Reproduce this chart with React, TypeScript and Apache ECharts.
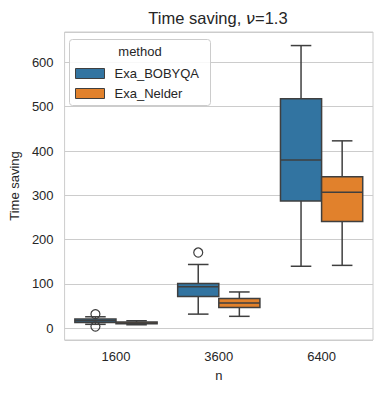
import React, { useEffect, useRef } from 'react';
import * as echarts from 'echarts';

const categories = ['1600', '3600', '6400'];
const methods = ['Exa_BOBYQA', 'Exa_Nelder'];
const colors = ['#3274a1', '#e1812c'];
// [lower whisker, Q1, median, Q3, upper whisker]
const bobyqaStats = [
  [9, 13, 17, 21, 26],
  [32, 72, 94, 101, 144],
  [140, 287, 380, 518, 638],
];
const nelderStats = [
  [8, 10, 12, 14, 17],
  [27, 47, 57, 67, 82],
  [142, 241, 307, 342, 423],
];
// [category index, value]
const bobyqaOutliers = [
  [0, 32],
  [0, 4],
  [1, 171],
];
const nelderOutliers: number[][] = [];

const FONT = 'Liberation Sans, Arial, sans-serif';
const TEXT = '#262626';
const EDGE = '#3f3f3f';

function makeRender(sIdx: number, outliers: number[][], color: string) {
  return (params: any, api: any) => {
    const cat = api.value(0);
    const low = api.value(1);
    const q1 = api.value(2);
    const med = api.value(3);
    const q3 = api.value(4);
    const high = api.value(5);
    const band = api.size([1, 0])[0];
    const bw = band * 0.4;
    const cx = api.coord([cat, 0])[0] + (sIdx === 0 ? -1 : 1) * (bw / 2);
    const y = (v: number) => api.coord([cat, v])[1];
    const ls = { stroke: EDGE, lineWidth: 1.5 };
    const children: any[] = [
      { type: 'line', shape: { x1: cx, y1: y(low), x2: cx, y2: y(q1) }, style: ls },
      { type: 'line', shape: { x1: cx, y1: y(q3), x2: cx, y2: y(high) }, style: ls },
      { type: 'line', shape: { x1: cx - bw / 4, y1: y(low), x2: cx + bw / 4, y2: y(low) }, style: ls },
      { type: 'line', shape: { x1: cx - bw / 4, y1: y(high), x2: cx + bw / 4, y2: y(high) }, style: ls },
      {
        type: 'rect',
        shape: { x: cx - bw / 2, y: y(q3), width: bw, height: y(q1) - y(q3) },
        style: { fill: color, stroke: EDGE, lineWidth: 1.5 },
      },
      { type: 'line', shape: { x1: cx - bw / 2, y1: y(med), x2: cx + bw / 2, y2: y(med) }, style: ls },
    ];
    outliers
      .filter((o) => o[0] === cat)
      .forEach((o) => {
        children.push({
          type: 'circle',
          shape: { cx, cy: y(o[1]), r: 4.5 },
          style: { fill: 'none', stroke: EDGE, lineWidth: 1.2 },
        });
      });
    return { type: 'group', children };
  };
}

export default function App() {
  const ref = useRef<HTMLDivElement>(null);
  useEffect(() => {
    if (!ref.current) return;
    const chart = echarts.init(ref.current, undefined, { renderer: 'svg' });
    const toData = (stats: number[][]) => stats.map((s, i) => [i, ...s]);
    chart.setOption({
      animation: false,
      backgroundColor: '#ffffff',
      textStyle: { fontFamily: FONT },
      grid: {
        left: 63,
        right: 9,
        top: 32,
        bottom: 53,
        show: true,
        borderColor: '#cccccc',
        borderWidth: 1,
        containLabel: false,
      },
      xAxis: {
        type: 'category',
        data: categories,
        name: 'n',
        nameLocation: 'middle',
        nameGap: 29,
        nameTextStyle: { fontSize: 13, color: TEXT, fontFamily: FONT },
        axisLine: { show: false },
        axisTick: { show: false },
        axisLabel: { fontSize: 13, color: TEXT, margin: 10, fontFamily: FONT },
        splitLine: { show: false },
      },
      yAxis: {
        type: 'value',
        min: -26.4,
        max: 668.6,
        splitNumber: 6,
        name: 'Time saving',
        nameLocation: 'middle',
        nameGap: 40,
        nameTextStyle: { fontSize: 13, color: TEXT, fontFamily: FONT },
        axisLine: { show: false },
        axisTick: { show: false },
        axisLabel: {
          fontSize: 13,
          color: TEXT,
          margin: 11,
          fontFamily: FONT,
          showMinLabel: false,
          showMaxLabel: false,
        },
        splitLine: { lineStyle: { color: '#cccccc', width: 1 } },
      },
      legend: {
        orient: 'vertical',
        left: 70,
        top: 62,
        itemWidth: 29,
        itemHeight: 10,
        itemGap: 7,
        z: 20,
        textStyle: { fontSize: 13, color: TEXT, fontFamily: FONT, padding: [0, 0, 0, 5] },
        data: methods.map((m, i) => ({
          name: m,
          icon: 'rect',
          itemStyle: { color: colors[i], borderColor: EDGE, borderWidth: 1 },
        })),
      },
      graphic: [
        {
          type: 'text',
          x: 218,
          y: 18,
          style: {
            text: 'Time saving, {i|ν}=1.3',
            fontSize: 16.5,
            fontFamily: FONT,
            fill: TEXT,
            align: 'center',
            verticalAlign: 'middle',
            rich: { i: { fontStyle: 'italic', fontSize: 16.5, fontFamily: 'DejaVu Sans', fill: TEXT } },
          },
        },
        {
          type: 'rect',
          z: 15,
          shape: { x: 69.5, y: 39.5, width: 141, height: 66, r: 3 },
          style: { fill: 'rgba(255,255,255,0.85)', stroke: '#cccccc', lineWidth: 1 },
        },
        {
          type: 'text',
          z: 16,
          x: 140,
          y: 51,
          style: {
            text: 'method',
            fontSize: 13,
            fontFamily: FONT,
            fill: TEXT,
            align: 'center',
            verticalAlign: 'middle',
          },
        },
      ],
      series: [
        {
          name: methods[0],
          type: 'custom',
          itemStyle: { color: colors[0] },
          renderItem: makeRender(0, bobyqaOutliers, colors[0]),
          encode: { x: 0, y: [1, 2, 3, 4, 5] },
          data: toData(bobyqaStats),
        },
        {
          name: methods[1],
          type: 'custom',
          itemStyle: { color: colors[1] },
          renderItem: makeRender(1, nelderOutliers, colors[1]),
          encode: { x: 0, y: [1, 2, 3, 4, 5] },
          data: toData(nelderStats),
        },
      ],
    });
    return () => chart.dispose();
  }, []);
  return (
    <div
      ref={ref}
      style={{ position: 'fixed', left: 0, top: 0, width: 382, height: 393 }}
    />
  );
}
